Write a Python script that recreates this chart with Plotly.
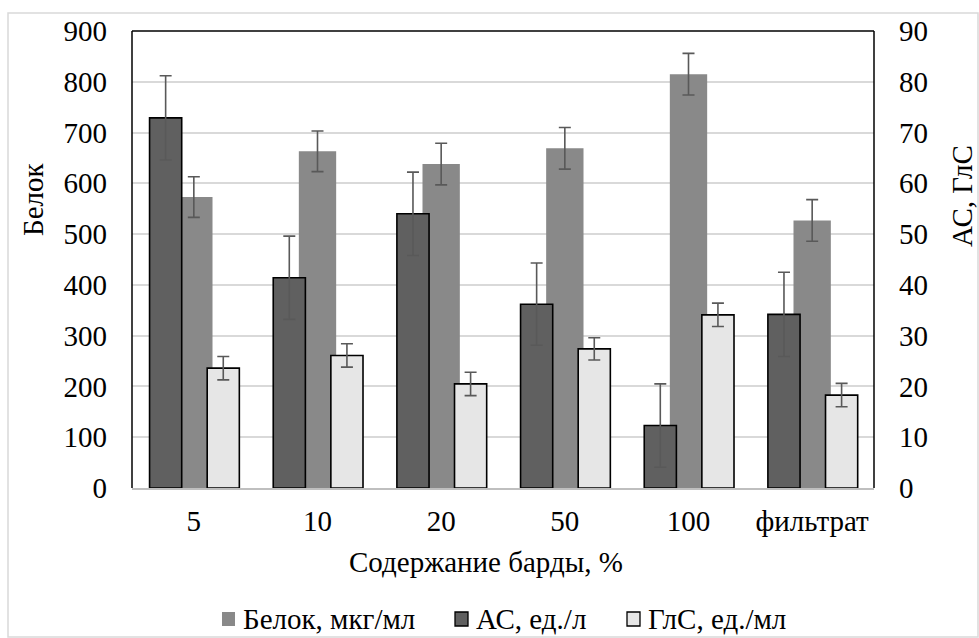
import plotly.graph_objects as go

# Categories: stillage content in the medium
categories = ["5", "10", "20", "50", "100", "фильтрат"]

# Protein, µg/ml (left axis)
protein = [573, 663, 638, 669, 815, 527]
protein_err = [40, 40, 41, 41, 41, 41]

# Amylolytic activity, U/l (right axis)
amylase = [72.9, 41.4, 54.0, 36.2, 12.3, 34.2]
amylase_err = [8.3, 8.2, 8.2, 8.1, 8.2, 8.3]

# Glucoamylase activity, U/ml (right axis)
glucoamylase = [23.6, 26.1, 20.5, 27.4, 34.1, 18.3]
glucoamylase_err = [2.3, 2.3, 2.3, 2.2, 2.3, 2.3]

left_ticks = [0, 100, 200, 300, 400, 500, 600, 700, 800, 900]
right_ticks = [0, 10, 20, 30, 40, 50, 60, 70, 80, 90]

FONT = "Liberation Serif"
FS = 29
ERR_COLOR = "#595959"

# plot-area geometry in pixels, used to place the free-standing labels
L, R, T, B = 132, 874, 31, 488
W, H = R - L, B - T


def px(x):
    return (x - L) / W


def py(y):
    return (B - y) / H


series = [
    dict(name="Белок, мкг/мл", y=protein, err=protein_err, axis="y",
         offset=-0.151, width=0.302, color="#898989", line=0),
    dict(name="АС, ед./л", y=amylase, err=amylase_err, axis="y2",
         offset=-0.358, width=0.26, color="#606060", line=1.6),
    dict(name="ГлС, ед./мл", y=glucoamylase, err=glucoamylase_err, axis="y2",
         offset=0.108, width=0.26, color="#e6e6e6", line=1.6),
]

fig = go.Figure()
for s in series:
    fig.add_trace(go.Bar(
        name=s["name"], x=categories, y=s["y"],
        offset=s["offset"], width=s["width"],
        marker=dict(color=s["color"], line=dict(color="#000000", width=s["line"])),
        error_y=dict(type="data", array=s["err"], color=ERR_COLOR, thickness=1.6, width=6),
        yaxis=s["axis"], showlegend=False,
    ))

shapes = [
    # outer chart border
    dict(type="rect", xref="paper", yref="paper", x0=px(8), x1=px(978), y0=py(637), y1=py(13),
         line=dict(color="#d9d9d9", width=1.5), fillcolor="rgba(0,0,0,0)", layer="below"),
    # plot frame: left, top, right
    dict(type="line", xref="paper", yref="paper", x0=0, x1=0, y0=0, y1=1,
         line=dict(color="#000000", width=1.5)),
    dict(type="line", xref="paper", yref="paper", x0=0, x1=1, y0=1, y1=1,
         line=dict(color="#000000", width=1.5)),
    dict(type="line", xref="paper", yref="paper", x0=1, x1=1, y0=0, y1=1,
         line=dict(color="#000000", width=1.5)),
]

annotations = [
    dict(text="Белок", xref="paper", yref="paper", x=px(33), y=py(200),
         textangle=-90, showarrow=False, xanchor="center", yanchor="middle",
         font=dict(family=FONT, size=FS)),
    dict(text="АС, ГлС", xref="paper", yref="paper", x=px(962), y=py(196),
         textangle=-90, showarrow=False, xanchor="center", yanchor="middle",
         font=dict(family=FONT, size=FS)),
    dict(text="Содержание барды, %", xref="paper", yref="paper", x=px(486), y=py(562),
         showarrow=False, xanchor="center", yanchor="middle",
         font=dict(family=FONT, size=FS)),
]

# legend row: swatch + label for each series
legend_y = 619
legend_swatch_x = [222, 455, 627]
for s, sx in zip(series, legend_swatch_x):
    shapes.append(dict(
        type="rect", xref="paper", yref="paper",
        x0=px(sx), x1=px(sx + 13), y0=py(legend_y + 7), y1=py(legend_y - 7),
        fillcolor=s["color"],
        line=dict(color="#000000" if s["line"] else s["color"], width=1.3 if s["line"] else 0),
    ))
    annotations.append(dict(
        text=s["name"], xref="paper", yref="paper", x=px(sx + 19), y=py(legend_y),
        showarrow=False, xanchor="left", yanchor="middle",
        font=dict(family=FONT, size=FS),
    ))

fig.update_layout(
    width=979, height=638,
    margin=dict(l=L, r=979 - R, t=T, b=638 - B),
    paper_bgcolor="white", plot_bgcolor="white",
    barmode="overlay",
    font=dict(family=FONT, size=FS, color="#000000"),
    showlegend=False,
    xaxis=dict(
        type="category", range=[-0.5, 5.5],
        showgrid=False, showline=True, linecolor="#bfbfbf", linewidth=1.5,
        ticks="", ticklabelstandoff=6,
        tickfont=dict(family=FONT, size=FS),
        zeroline=False,
    ),
    yaxis=dict(
        range=[0, 900], tickvals=left_ticks,
        showgrid=True, gridcolor="#d9d9d9", gridwidth=1.5,
        showline=False, zeroline=False, ticks="",
        ticklabelstandoff=24,
        tickfont=dict(family=FONT, size=FS),
    ),
    yaxis2=dict(
        range=[0, 90], tickvals=right_ticks, overlaying="y", side="right",
        showgrid=False, showline=False, zeroline=False, ticks="",
        ticklabelstandoff=24,
        tickfont=dict(family=FONT, size=FS),
    ),
    shapes=shapes,
    annotations=annotations,
)

fig.write_html("out.html")
